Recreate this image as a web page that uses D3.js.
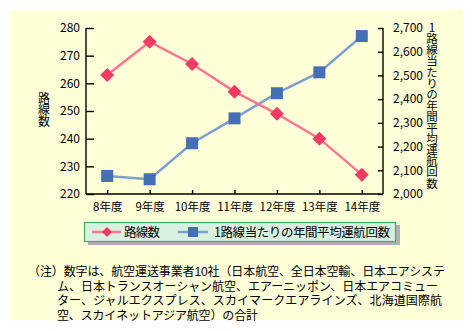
<!DOCTYPE html>
<html><head><meta charset="utf-8">
<script src="https://cdn.jsdelivr.net/npm/d3@7"></script>
<style>body{margin:0;background:#fff}svg text{font-family:"Noto Sans CJK JP",sans-serif}svg text.note{font-family:"Liberation Sans","Noto Sans CJK JP",sans-serif}</style>
</head><body><svg id="c" width="473" height="331"></svg>
<script>
const categories = ["8年度","9年度","10年度","11年度","12年度","13年度","14年度"];
const routes = [263, 275, 267, 257, 249, 240, 227];
const flightsPerRoute = [2076, 2062, 2214, 2319, 2425, 2513, 2666];
const leftTicks = [220,230,240,250,260,270,280];
const rightTicks = [2000,2100,2200,2300,2400,2500,2600,2700];
const seriesNames = ["路線数","1路線当たりの年間平均運航回数"];
const noteLines = ["（注）数字は、航空運送事業者10社（日本航空、全日本空輸、日本エアシステ",
  "ム、日本トランスオーシャン航空、エアーニッポン、日本エアコミュー",
  "ター、ジャルエクスプレス、スカイマークエアラインズ、北海道国際航",
  "空、スカイネットアジア航空）の合計"];

const svg = d3.select("#c");
svg.append("rect").attr("x",10).attr("y",10).attr("width",453).attr("height",310).attr("fill","#ffffd8");

const L=86,R=383,T=28,B=194;
const x = d3.scalePoint().domain(categories).range([L,R]).padding(0.5);
const yL = d3.scaleLinear().domain([220,280]).range([B,T]);
const yR = d3.scaleLinear().domain([2000,2700]).range([B,T]);
const red="#ff7590", redM="#f03c64", blue="#7f9fd0", blueM="#4470b4";

const gl = svg.append("g").attr("transform",`translate(${L},0)`)
  .call(d3.axisLeft(yL).tickValues(leftTicks).tickSize(-8).tickPadding(6));
const gr = svg.append("g").attr("transform",`translate(${R},0)`)
  .call(d3.axisRight(yR).tickValues(rightTicks).tickFormat(d3.format(",")).tickSize(-5).tickPadding(10));
const gb = svg.append("g").attr("transform",`translate(0,${B})`)
  .call(d3.axisBottom(x).tickSize(-4).tickPadding(9));
gb.select(".domain").attr("d",`M${L},0H${R}`);
[gl,gr,gb].forEach(g=>{
  g.selectAll(".domain,line").attr("stroke","#000").attr("stroke-width",1.4);
  g.selectAll("text").attr("fill","#000").attr("font-size",12);
});
gl.select(".domain").attr("d",`M0,${T}V${B}`);
gr.select(".domain").attr("d",`M0,${T}V${B}`);
gl.selectAll(".tick text").attr("x",-6);
gb.selectAll("text").attr("font-size",11.5);

// axis titles (vertical writing)
svg.append("text").attr("x",44).attr("y",92).attr("font-size",12)
  .style("writing-mode","vertical-rl").style("text-orientation","upright").style("letter-spacing","-0.2px")
  .text(seriesNames[0]);
svg.append("text").attr("x",432).attr("y",22).attr("font-size",11.5)
  .style("writing-mode","vertical-rl").style("text-orientation","upright").style("letter-spacing","-0.4px")
  .text(seriesNames[1]);

const lineL = d3.line().x((d,i)=>x(categories[i])).y(d=>yL(d));
const lineR = d3.line().x((d,i)=>x(categories[i])).y(d=>yR(d));
svg.append("path").datum(flightsPerRoute).attr("d",lineR).attr("fill","none").attr("stroke",blue).attr("stroke-width",2.5);
svg.append("path").datum(routes).attr("d",lineL).attr("fill","none").attr("stroke",red).attr("stroke-width",2.5);
svg.selectAll(".sq").data(flightsPerRoute).join("rect")
  .attr("x",(d,i)=>x(categories[i])-6).attr("y",d=>yR(d)-6).attr("width",12).attr("height",12).attr("fill",blueM);
svg.selectAll(".dm").data(routes).join("path")
  .attr("d","M0,-7L7,0L0,7L-7,0Z").attr("transform",(d,i)=>`translate(${x(categories[i])},${yL(d)})`).attr("fill",redM);

// legend
svg.append("rect").attr("x",88).attr("y",225).attr("width",312).attr("height",20).attr("fill","#b0b0b0");
svg.append("rect").attr("x",84.5).attr("y",222.5).attr("width",311).attr("height",19).attr("fill","#d8f0e0").attr("stroke","#40b060").attr("stroke-width",1.2);
svg.append("line").attr("x1",92).attr("x2",121).attr("y1",232).attr("y2",232).attr("stroke",red).attr("stroke-width",2.5);
svg.append("path").attr("d","M0,-5L5,0L0,5L-5,0Z").attr("transform","translate(107,232)").attr("fill",redM);
svg.append("text").attr("x",124).attr("y",237).attr("font-size",12.5).attr("textLength",36).text(seriesNames[0]);
svg.append("line").attr("x1",178).attr("x2",208).attr("y1",232).attr("y2",232).attr("stroke",blue).attr("stroke-width",2.5);
svg.append("rect").attr("x",188).attr("y",227).attr("width",10).attr("height",10).attr("fill",blueM);
svg.append("text").attr("x",214).attr("y",237).attr("font-size",12.5).attr("textLength",176).text(seriesNames[1]);

// note (one text block, one tspan per line)
const noteX = [28,57,57,57], noteW = [417,381,385,201];
const note = svg.append("text").attr("class","note").attr("font-size",12).attr("fill","#000");
noteLines.forEach((s,i)=>{
  note.append("tspan").attr("x",noteX[i]).attr("y",276+i*14.5)
    .attr("textLength",noteW[i]).attr("lengthAdjust","spacing").text(s);
});
</script></body></html>
